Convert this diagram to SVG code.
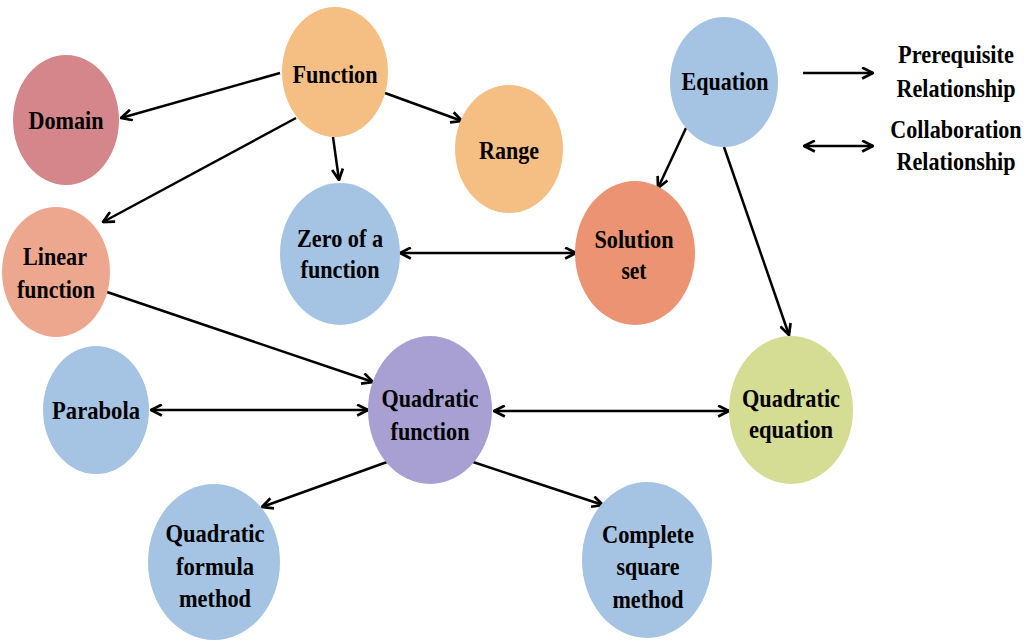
<svg xmlns="http://www.w3.org/2000/svg" width="1027" height="641" viewBox="0 0 1027 641">
<style>
text{font-family:"Liberation Serif","Times New Roman",serif;font-weight:bold;font-size:26px;fill:#000;text-anchor:middle}
.c{stroke:#000;stroke-width:2.5;fill:none;marker-end:url(#ah)}
.d{marker-start:url(#ah)}
.orange{fill:#F5BE82}.domain{fill:#D4868A}.blue{fill:#A5C3E3}.linear{fill:#EEA78F}.sol{fill:#EB9373}.qf{fill:#A8A0D3}.qe{fill:#D5DC94}
</style>
<defs>
<marker id="ah" viewBox="0 0 12 12" refX="11" refY="6" markerWidth="13" markerHeight="13" markerUnits="userSpaceOnUse" orient="auto-start-reverse">
<path d="M1,1 L11,6 L1,11" fill="none" stroke="#000" stroke-width="2.5"/>
</marker>
</defs>
<rect width="1027" height="641" fill="#fff"/>
<g id="connectors">
<line class="c" x1="280" y1="73" x2="121" y2="118"/>
<line class="c" x1="296" y1="118" x2="103" y2="222"/>
<line class="c" x1="333" y1="137" x2="339" y2="180"/>
<line class="c" x1="385" y1="93" x2="462" y2="121"/>
<line class="c" x1="686" y1="128" x2="658" y2="188"/>
<line class="c" x1="724" y1="147" x2="789" y2="335"/>
<line class="c d" x1="400" y1="253" x2="576" y2="253"/>
<line class="c" x1="107" y1="292" x2="373" y2="382"/>
<line class="c d" x1="151" y1="410" x2="368" y2="410"/>
<line class="c d" x1="494" y1="411" x2="729" y2="411"/>
<line class="c" x1="387" y1="462" x2="262" y2="507"/>
<line class="c" x1="473" y1="462" x2="603" y2="505"/>
<line class="c" x1="803" y1="73" x2="873" y2="73"/>
<line class="c d" x1="804" y1="146" x2="873" y2="146"/>
</g>
<g id="function"><ellipse class="orange" cx="335" cy="72" rx="53" ry="65"/><text x="335" y="83" textLength="85" lengthAdjust="spacingAndGlyphs">Function</text></g>
<g id="domain"><ellipse class="domain" cx="66" cy="120" rx="53" ry="65"/><text x="66" y="129" textLength="75" lengthAdjust="spacingAndGlyphs">Domain</text></g>
<g id="range"><ellipse class="orange" cx="509" cy="149" rx="54" ry="64"/><text x="509" y="159" textLength="60" lengthAdjust="spacingAndGlyphs">Range</text></g>
<g id="equation"><ellipse class="blue" cx="724" cy="82" rx="54" ry="65"/><text x="725" y="90" textLength="87" lengthAdjust="spacingAndGlyphs">Equation</text></g>
<g id="zero"><ellipse class="blue" cx="340" cy="254" rx="60" ry="71"/><text x="340" y="247" textLength="86" lengthAdjust="spacingAndGlyphs">Zero of a</text><text x="340" y="278" textLength="79" lengthAdjust="spacingAndGlyphs">function</text></g>
<g id="solution"><ellipse class="sol" cx="635" cy="253" rx="60" ry="72"/><text x="634" y="248" textLength="79" lengthAdjust="spacingAndGlyphs">Solution</text><text x="634" y="279" textLength="25" lengthAdjust="spacingAndGlyphs">set</text></g>
<g id="linear"><ellipse class="linear" cx="56" cy="272" rx="54" ry="65"/><text x="55" y="265" textLength="64" lengthAdjust="spacingAndGlyphs">Linear</text><text x="56" y="298" textLength="78" lengthAdjust="spacingAndGlyphs">function</text></g>
<g id="parabola"><ellipse class="blue" cx="96" cy="410" rx="53" ry="64"/><text x="96" y="419" textLength="88" lengthAdjust="spacingAndGlyphs">Parabola</text></g>
<g id="quadfunction"><ellipse class="qf" cx="430" cy="410" rx="62" ry="74"/><text x="430" y="407" textLength="97" lengthAdjust="spacingAndGlyphs">Quadratic</text><text x="430" y="440" textLength="79" lengthAdjust="spacingAndGlyphs">function</text></g>
<g id="quadequation"><ellipse class="qe" cx="791" cy="410" rx="62" ry="74"/><text x="791" y="407" textLength="98" lengthAdjust="spacingAndGlyphs">Quadratic</text><text x="791" y="438" textLength="84" lengthAdjust="spacingAndGlyphs">equation</text></g>
<g id="formula"><ellipse class="blue" cx="214" cy="562" rx="66" ry="78"/><text x="215" y="542" textLength="99" lengthAdjust="spacingAndGlyphs">Quadratic</text><text x="215" y="575" textLength="78" lengthAdjust="spacingAndGlyphs">formula</text><text x="215" y="607" textLength="72" lengthAdjust="spacingAndGlyphs">method</text></g>
<g id="complete"><ellipse class="blue" cx="647" cy="560" rx="65" ry="78"/><text x="648" y="543" textLength="92" lengthAdjust="spacingAndGlyphs">Complete</text><text x="648" y="575" textLength="63" lengthAdjust="spacingAndGlyphs">square</text><text x="648" y="608" textLength="71" lengthAdjust="spacingAndGlyphs">method</text></g>
<g id="legend">
<text transform="translate(956,63) scale(0.86,1)">Prerequisite</text>
<text transform="translate(956,97) scale(0.85,1)">Relationship</text>
<text transform="translate(956,138) scale(0.85,1)">Collaboration</text>
<text transform="translate(956,170) scale(0.85,1)">Relationship</text>
</g>
</svg>
